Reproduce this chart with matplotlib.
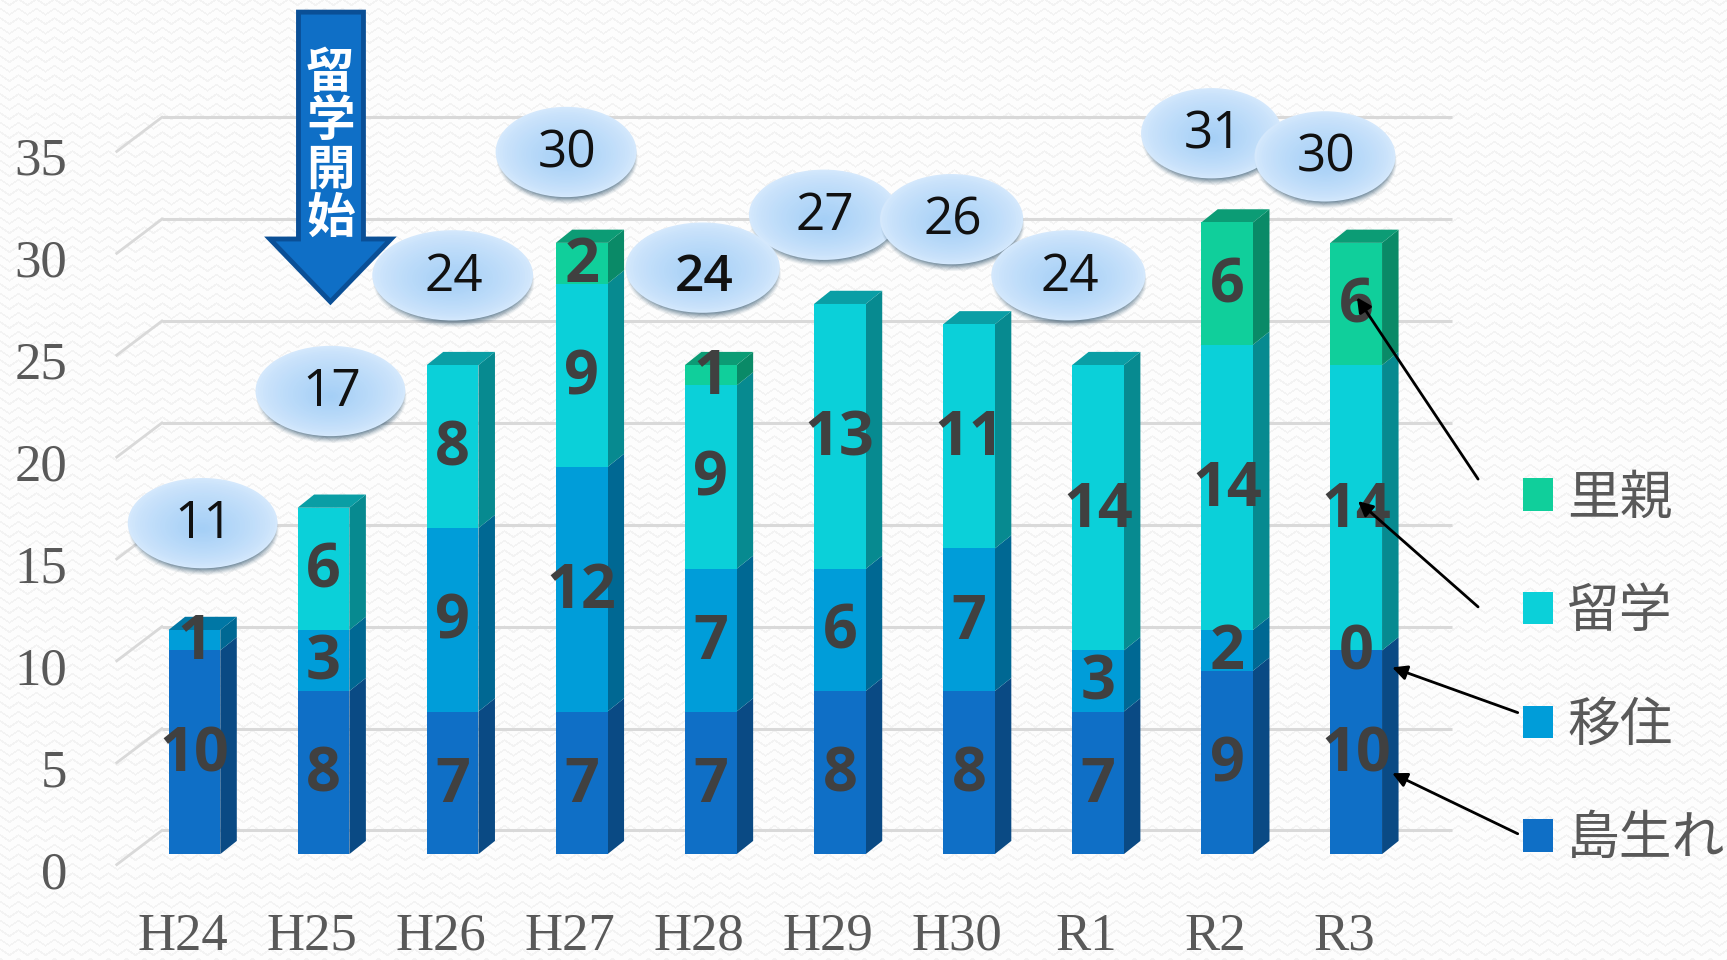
import numpy as np
import matplotlib
matplotlib.use("Agg")
import matplotlib.pyplot as plt
from matplotlib.patches import Ellipse, Polygon
from matplotlib.transforms import Affine2D

# ---- data ----
years = ["H24", "H25", "H26", "H27", "H28", "H29", "H30", "R1", "R2", "R3"]
shima = [10, 8, 7, 7, 7, 8, 8, 7, 9, 10]
iju = [1, 3, 9, 12, 7, 6, 7, 3, 2, 0]
ryugaku = [0, 6, 8, 9, 9, 13, 11, 14, 14, 14]
satooya = [0, 0, 0, 2, 1, 0, 0, 0, 6, 6]
totals = [11, 17, 24, 30, 24, 27, 26, 24, 31, 30]
series_names = ["島生れ", "移住", "留学", "里親"]
y_ticks = [0, 5, 10, 15, 20, 25, 30, 35]

# ---- styles ----
front = ["#0F6FC6", "#009DD9", "#0BD0D9", "#10CF9B"]
side = ["#0A4A84", "#006893", "#078A90", "#0A8A67"]
top = ["#0B5596", "#0077A5", "#0A9EA5", "#0C9C75"]
# callout placement relative to the top of each bar (reference px at 1568 wide)
bubble_dx = [7.5, 6.3, 0.1, -14.1, -7.3, -14.5, -15.7, -26.9, -14.1, -28.3]
bubble_rise = [95.5, 104.5, 80, 81, 87, 79.5, 94, 80, 79.5, 77]
bubble_rx = [68, 68, 73, 64, 70, 68, 65, 70, 64, 64]
bubble_order = [0, 1, 2, 3, 5, 4, 6, 7, 8, 9]

W, H, DPI = 1727, 960, 100
S = W / 1568.0            # reference px -> output px
X0, DX = 176.5, 117.2     # px of first bar centre, px per category
Y0, DY = 775.5, 18.5      # px of value 0, px per unit
L, B = 65.0, 825.0        # axes left / bottom in px

def xd(p):
    return (p - X0) / DX
def yd(p):
    return (Y0 - p) / DY

fig = plt.figure(figsize=(W / DPI, H / DPI), dpi=DPI, facecolor="white")

# faint zig-zag wallpaper
yy, xx = np.mgrid[0:H, 0:W]
tri = np.abs(((xx / 18.0) % 1.0) - 0.5) * 2
dist = np.abs(((yy + tri * 6.0) % 9.5) - 4.7)
tex = np.where(dist < 1.1, 0.955, 0.995)
fig.figimage(np.dstack([tex, tex, tex]), 0, 0, zorder=-5, origin="upper")

ax = fig.add_axes([L * S / W, 1 - B * S / H, 1 - L * S / W, B * S / H])
ax.patch.set_alpha(0)
ax.set_xlim(xd(L), xd(1568))
ax.set_ylim(yd(B), yd(0))
for sp in ax.spines.values():
    sp.set_visible(False)

# gridlines with receding wall
back = 21.5 / DY
for v in y_ticks:
    ax.plot([xd(147), xd(1318)], [v + back, v + back], color="#D9D9D9", lw=2.2, zorder=1, solid_capstyle="butt")
    ax.plot([xd(106), xd(147)], [v + back - 31 / DY, v + back], color="#D9D9D9", lw=2.0, zorder=1)

# stacked bars with pseudo-3D faces
x = np.arange(len(years))
bw = 47 / DX
ox, oy = 15 / DX, 12 / DY
stack = [shima, iju, ryugaku, satooya]
bottom = np.zeros(len(years))
handles = []
for s, vals in enumerate(stack):
    vals = np.array(vals, dtype=float)
    hb = ax.bar(x, vals, bw, bottom=bottom, color=front[s], zorder=3, label=series_names[s], linewidth=0)
    handles.append(hb)
    for i in x:
        if vals[i] <= 0:
            continue
        xr = i + bw / 2
        b0, b1 = bottom[i], bottom[i] + vals[i]
        ax.add_patch(Polygon([(xr, b0), (xr + ox, b0 + oy), (xr + ox, b1 + oy), (xr, b1)],
                             closed=True, fc=side[s], ec="none", zorder=2.9))
        if abs(b1 - totals[i]) < 1e-6:
            ax.add_patch(Polygon([(i - bw / 2, b1), (i - bw / 2 + ox, b1 + oy), (xr + ox, b1 + oy), (xr, b1)],
                                 closed=True, fc=top[s], ec="none", zorder=2.9))
    for i in x:
        if vals[i] > 0 or (s == 1 and years[i] == "R3"):
            ax.text(i, bottom[i] + vals[i] / 2 - 3 / DY, f"{int(vals[i])}", ha="center", va="center",
                    fontfamily="Open Sans", fontweight="bold", fontsize=44, color="#404040", zorder=6)
    bottom = bottom + vals

# big start arrow
arrow_px = [(271, 11), (330, 11), (330, 217), (355, 217), (300, 274), (245, 217), (271, 217)]
ax.add_patch(Polygon([(xd(a), yd(b)) for a, b in arrow_px], closed=True, fc="#0F6FC6", ec="#0A4F96",
                     lw=3.5, zorder=4, joinstyle="miter", clip_on=False))
ax.text(xd(300), yd(132.5), "留\n学\n開\n始", color="white", ha="center", va="center", fontsize=35,
        fontfamily="Noto Sans CJK JP", fontweight="bold", linespacing=0.98, zorder=4.5)

# total callouts
ry = 41
for i in bubble_order:
    cx = i + bubble_dx[i] / DX
    cy = totals[i] + (bubble_rise[i] + 1.5) / DY
    rx = bubble_rx[i]
    z = 5 + i * 0.01 + (0.02 if i == 4 else 0)
    for k in range(8):
        grow = 1 - k * 0.012
        ax.add_patch(Ellipse((cx + 1 / DX, cy - (6 - k * 0.6) / DY), 2 * rx * grow / DX, 2 * ry * grow / DY,
                             fc="#244A66", ec="none", alpha=0.07 + k * 0.03, zorder=z))
    n = 30
    c0 = np.array(matplotlib.colors.to_rgb("#D4E8FC"))
    c1 = np.array(matplotlib.colors.to_rgb("#A5CFF6"))
    for k in range(n):
        t = k / (n - 1)
        col = c0 + (c1 - c0) * t ** 0.75
        f = 1 - t * 0.97
        ax.add_patch(Ellipse((cx, cy - (0.12 * ry * t) / DY), 2 * rx * f / DX, 2 * ry * f / DY,
                             fc=col, ec="none", zorder=z + 0.001 * (k + 1)))
    drop = 9.5 if i == 4 else 1.5
    ax.text(cx + 1 / DX, cy - drop / DY, f"{totals[i]}", ha="center", va="center", fontsize=37, color="#111111",
            fontfamily="Open Sans", fontweight=600 if i == 4 else "normal", zorder=z + 0.05)

# thin pointer arrows from the legend
pointers = [((1342, 435), (1232, 270)), ((1342, 551), (1233, 455)),
            ((1378, 647), (1264, 606)), ((1378, 757), (1264, 702))]
for a, b in pointers:
    ax.annotate("", xy=(xd(b[0]), yd(b[1])), xytext=(xd(a[0]), yd(a[1])),
                arrowprops=dict(arrowstyle="-|>", color="black", lw=2, mutation_scale=22,
                                shrinkA=0, shrinkB=0), zorder=7)

# axes ticks
ax.set_xticks(x)
ax.set_xticklabels(years)
ax.set_yticks(y_ticks)
ax.set_yticklabels([str(v) for v in y_ticks])
ax.tick_params(length=0, colors="#595959", labelsize=38, pad=3)
for lab in ax.get_xticklabels() + ax.get_yticklabels():
    lab.set_fontfamily("Liberation Serif")
    lab.set_color("#595959")
for t in ax.xaxis.get_major_ticks():
    t.label1.set_transform(t.label1.get_transform() + Affine2D().translate(-10.5 * S, 0))
for t in ax.yaxis.get_major_ticks():
    t.label1.set_transform(t.label1.get_transform() + Affine2D().translate(0, -14 * S))

# legend
leg = ax.legend(handles[::-1], series_names[::-1], frameon=False, loc="upper left",
                bbox_to_anchor=((1383 - L) / (1568 - L), 1 - 427 / B), borderaxespad=0, borderpad=0,
                prop={"family": "Noto Sans CJK JP", "size": 38}, handlelength=0.565, handleheight=0.565,
                handletextpad=0.27, labelspacing=1.11, labelcolor="#595959")
leg.set_zorder(8)

fig.savefig("out.png", dpi=DPI)
